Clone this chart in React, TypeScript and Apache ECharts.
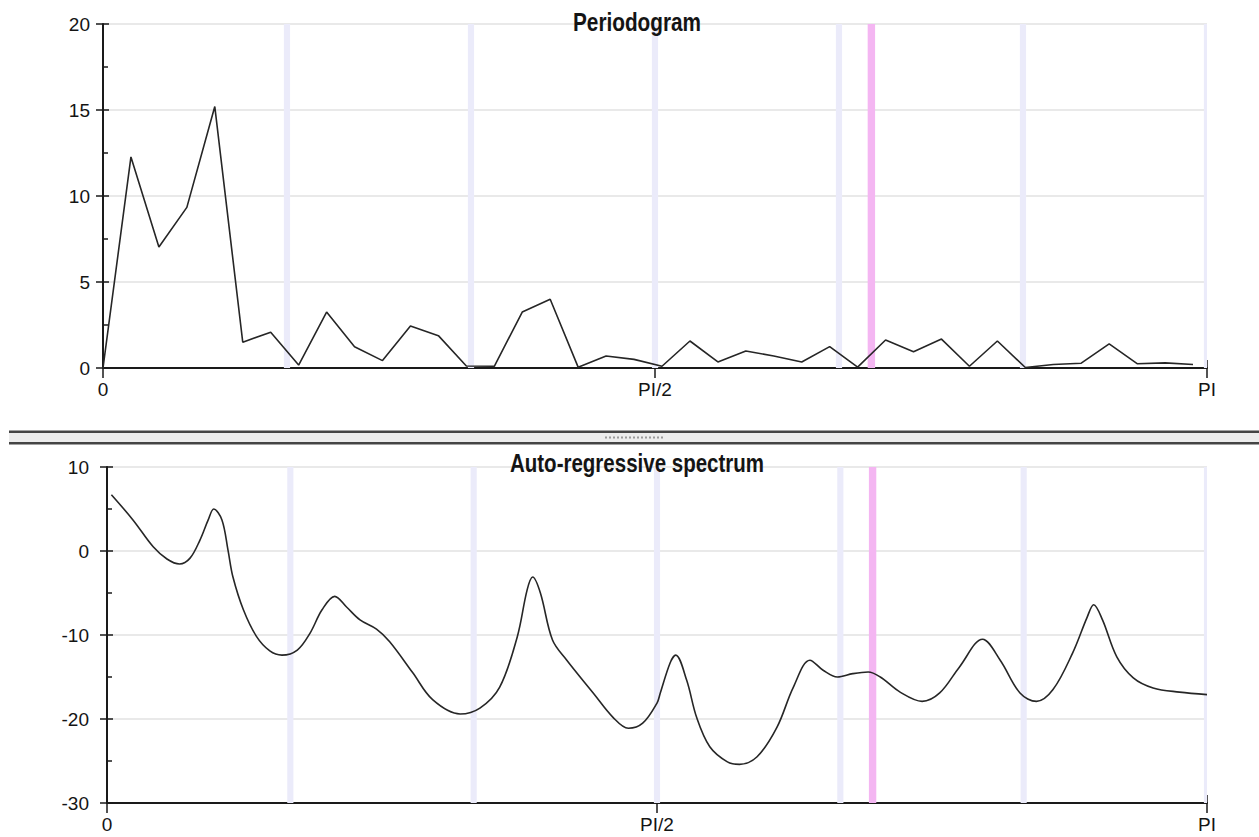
import React, { useEffect, useRef } from "react";
import * as echarts from "echarts";

// Frequencies are expressed as fractions of PI (0 .. 1)
const periodogramStep = 2 / 79; // Fourier frequency spacing (fraction of PI)
const periodogramValues = [
  0, 12.27, 7.03, 9.34, 15.2, 1.5, 2.08, 0.17, 3.25, 1.24,
  0.43, 2.44, 1.88, 0.12, 0.1, 3.25, 4.0, 0.05, 0.7, 0.5,
  0.1, 1.57, 0.35, 0.99, 0.7, 0.35, 1.24, 0.05, 1.63, 0.95,
  1.68, 0.1, 1.57, 0.03, 0.2, 0.28, 1.4, 0.25, 0.3, 0.2,
];

const arFreq = [
  0.004, 0.0236, 0.042, 0.0545, 0.066, 0.0755, 0.0845, 0.092, 0.097, 0.1045,
  0.11, 0.1145, 0.124, 0.136, 0.148, 0.159, 0.173, 0.1845, 0.1955, 0.207,
  0.218, 0.23, 0.245, 0.257, 0.278, 0.296, 0.321, 0.339, 0.357, 0.373,
  0.382, 0.387, 0.394, 0.405, 0.418, 0.442, 0.46, 0.474, 0.487, 0.5,
  0.503, 0.512, 0.517, 0.527, 0.536, 0.548, 0.564, 0.575, 0.591, 0.609,
  0.624, 0.639, 0.651, 0.664, 0.678, 0.692, 0.703, 0.721, 0.741, 0.757,
  0.775, 0.796, 0.812, 0.83, 0.845, 0.86, 0.878, 0.891, 0.897, 0.905,
  0.918, 0.933, 0.951, 0.975, 1.0,
];
const arValues = [
  6.7, 3.7, 0.5, -0.95, -1.55, -0.85, 1.3, 3.7, 5.0, 3.7,
  0.1, -3.1, -7.0, -10.2, -11.9, -12.4, -11.8, -9.8, -7.0, -5.4,
  -6.7, -8.2, -9.3, -10.8, -14.5, -17.7, -19.4, -18.7, -16.2, -10.2,
  -4.6, -3.1, -5.0, -10.6, -13.0, -16.9, -19.8, -21.1, -20.5, -18.1,
  -16.9, -13.3, -12.4, -15.4, -19.8, -23.3, -25.1, -25.4, -24.5, -21.0,
  -16.2, -13.0, -14.2, -15.0, -14.6, -14.4, -15.0, -16.8, -17.9, -16.9,
  -13.8, -10.5, -13.0, -16.9, -17.9, -16.5, -12.1, -7.9, -6.4, -8.2,
  -12.6, -15.1, -16.3, -16.8, -17.1,
];

const seasonalFreqs = [1 / 6, 2 / 6, 3 / 6, 4 / 6, 5 / 6, 1];
const tradingDayFreq = 0.696;

const xTickValues = [0, 0.5, 1];
const xTickLabels = ["0", "PI/2", "PI"];

const FONT = 'Arial, "Liberation Sans", sans-serif';
const TEXT_COLOR = "#141414";
const AXIS_COLOR = "#1a1a1a";

function xLabel(v: number) {
  for (let i = 0; i < xTickValues.length; i++) {
    if (Math.abs(v - xTickValues[i]) < 1e-6) return xTickLabels[i];
  }
  return "";
}

function bands(halfWidth: number) {
  const out: any[] = [];
  seasonalFreqs.forEach((f) => {
    out.push([
      { xAxis: Math.max(0, f - halfWidth), itemStyle: { color: "#ebebfa" } },
      { xAxis: Math.min(1, f + halfWidth) },
    ]);
  });
  out.push([
    { xAxis: tradingDayFreq - halfWidth * 1.2, itemStyle: { color: "#f4b6f2" } },
    { xAxis: tradingDayFreq + halfWidth * 1.2 },
  ]);
  return out;
}

function xAxes(gridIndex: number) {
  return [
    {
      gridIndex,
      type: "value",
      position: "bottom",
      min: 0,
      max: 1,
      interval: 0.5,
      axisLine: { show: true, onZero: false, lineStyle: { color: AXIS_COLOR, width: 2 } },
      axisTick: { show: true, length: 10, lineStyle: { color: AXIS_COLOR, width: 1.5 } },
      axisLabel: {
        show: true,
        formatter: xLabel,
        fontSize: 19,
        fontFamily: FONT,
        color: TEXT_COLOR,
        margin: 12,
      },
      splitLine: { show: false },
    },
    {
      gridIndex,
      type: "value",
      position: "bottom",
      min: 0,
      max: 1,
      interval: 0.5,
      axisLine: { show: false, onZero: false },
      axisTick: { show: true, inside: true, length: 8, lineStyle: { color: AXIS_COLOR, width: 1.5 } },
      axisLabel: { show: false },
      splitLine: { show: false },
    },
  ];
}

function yAxes(gridIndex: number, min: number, max: number, interval: number, margin: number) {
  return [
    {
      gridIndex,
      type: "value",
      position: "left",
      min,
      max,
      interval,
      axisLine: { show: true, onZero: false, lineStyle: { color: AXIS_COLOR, width: 2 } },
      axisTick: { show: true, length: 7, lineStyle: { color: AXIS_COLOR, width: 1.5 } },
      axisLabel: { fontSize: 19, fontFamily: FONT, color: TEXT_COLOR, margin },
      splitLine: { show: true, lineStyle: { color: "#e2e2e2", width: 1.5 } },
    },
    {
      gridIndex,
      type: "value",
      position: "left",
      min,
      max,
      interval,
      axisLine: { show: false, onZero: false },
      axisTick: { show: true, inside: true, length: 6, lineStyle: { color: AXIS_COLOR, width: 1.5 } },
      minorTick: { show: true, splitNumber: 2, length: 5, lineStyle: { color: AXIS_COLOR, width: 1.5 } },
      axisLabel: { show: false },
      splitLine: { show: false },
    },
  ];
}

function titleText(text: string, x: number, y: number, scaleX: number) {
  return {
    type: "text",
    x,
    y,
    scaleX,
    z: 10,
    style: {
      text,
      font: `bold 25px ${FONT}`,
      fill: TEXT_COLOR,
      align: "center",
      verticalAlign: "middle",
      textAlign: "center",
      textVerticalAlign: "middle",
    },
  };
}

export default function App() {
  const ref = useRef<HTMLDivElement>(null);

  useEffect(() => {
    document.body.style.margin = "0";
    document.body.style.overflow = "hidden";
    if (!ref.current) return;
    const chart = echarts.init(ref.current, undefined, { renderer: "svg" });

    const periodogramData = periodogramValues.map((v, k) => [k * periodogramStep, v]);
    const arData = arFreq.map((f, i) => [f, arValues[i]]);

    const option: any = {
      animation: false,
      backgroundColor: "#ffffff",
      grid: [
        { left: 103, right: 52, top: 24, height: 344 },
        { left: 107, right: 52, top: 467, height: 336 },
      ],
      xAxis: [...xAxes(0), ...xAxes(1)],
      yAxis: [...yAxes(0, 0, 20, 5, 13), ...yAxes(1, -30, 10, 10, 18)],
      series: [
        {
          name: "Periodogram",
          type: "line",
          xAxisIndex: 0,
          yAxisIndex: 0,
          data: periodogramData,
          showSymbol: false,
          smooth: false,
          lineStyle: { color: "#262626", width: 1.6 },
          z: 3,
          markArea: { silent: true, data: bands(0.0028) },
        },
        {
          name: "Auto-regressive spectrum",
          type: "line",
          xAxisIndex: 2,
          yAxisIndex: 2,
          data: arData,
          showSymbol: false,
          smooth: 0.35,
          lineStyle: { color: "#262626", width: 1.6 },
          z: 3,
          markArea: { silent: true, data: bands(0.0028) },
        },
      ],
      graphic: [
        titleText("Periodogram", 637, 22, 0.83),
        titleText("Auto-regressive spectrum", 637, 463, 0.82),
        { type: "rect", shape: { x: 9, y: 430.5, width: 1250, height: 2.5 }, style: { fill: "#444444" } },
        { type: "rect", shape: { x: 9, y: 433, width: 1250, height: 9 }, style: { fill: "#ececec" } },
        { type: "rect", shape: { x: 9, y: 442, width: 1250, height: 2.5 }, style: { fill: "#444444" } },
        {
          type: "line",
          shape: { x1: 605, y1: 437.5, x2: 665, y2: 437.5 },
          style: { stroke: "#9a9a9a", lineWidth: 2, lineDash: [2, 2] },
        },
      ],
    };

    chart.setOption(option);
    return () => chart.dispose();
  }, []);

  return <div ref={ref} style={{ width: 1259, height: 837 }} />;
}
